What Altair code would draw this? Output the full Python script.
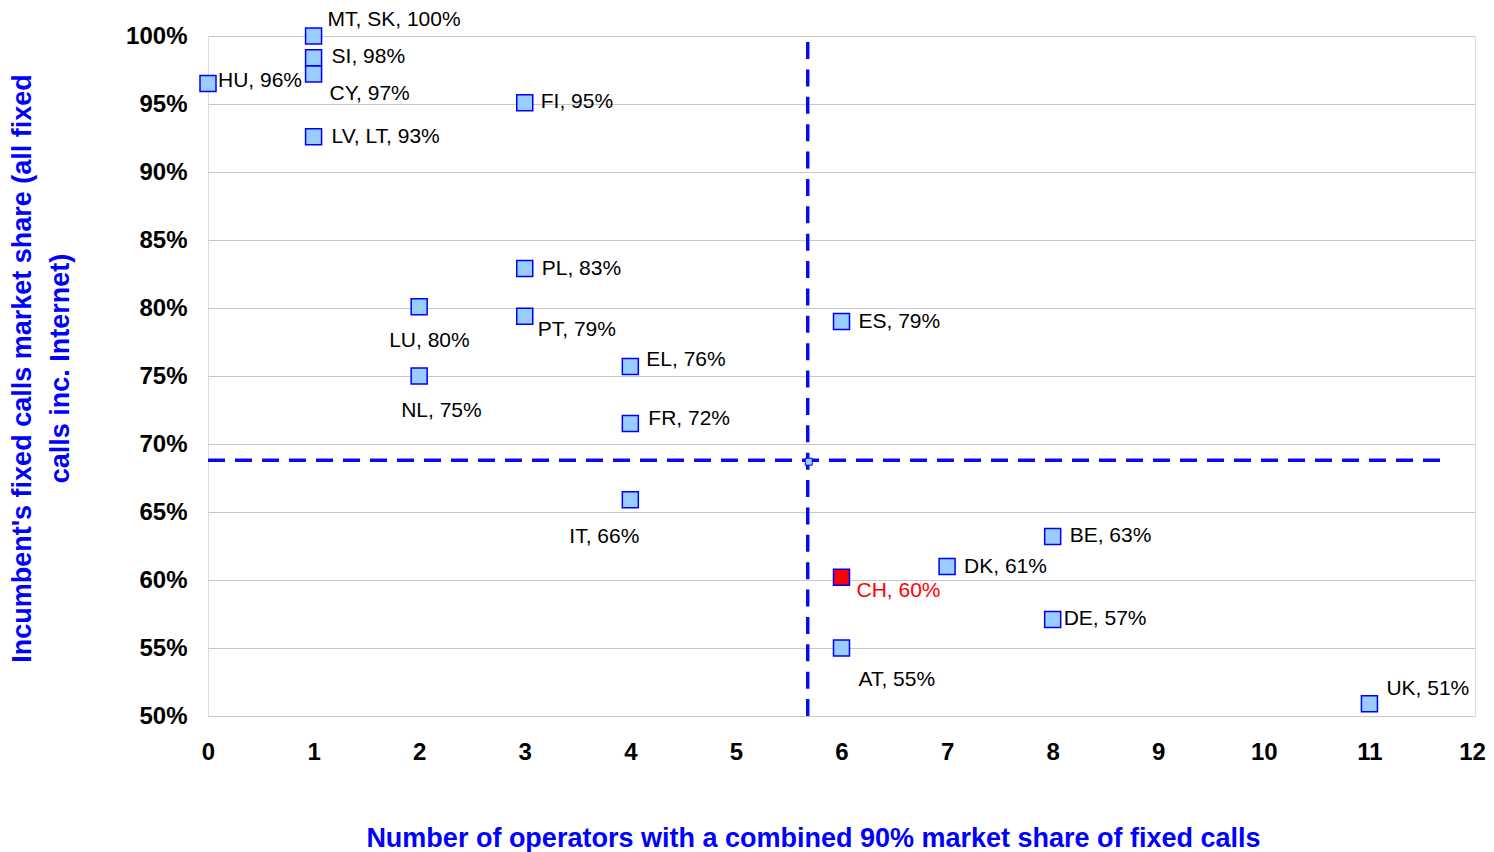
import altair as alt
import pandas as pd

# ---- data ----
codes = ["MT, SK", "SI", "CY", "HU", "LV, LT", "FI", "PL", "LU", "PT", "ES",
         "EL", "NL", "FR", "IT", "BE", "DK", "CH", "DE", "AT", "UK"]
operators = [1, 1, 1, 0, 1, 3, 3, 2, 3, 6, 4, 2, 4, 4, 8, 7, 6, 8, 6, 11]
share = [100.0, 98.4, 97.2, 96.5, 92.6, 95.1, 82.9, 80.1, 79.4, 79.0,
         75.7, 75.0, 71.5, 65.9, 63.2, 61.0, 60.2, 57.1, 55.0, 50.9]
share_label = [100, 98, 97, 96, 93, 95, 83, 80, 79, 79,
               76, 75, 72, 66, 63, 61, 60, 57, 55, 51]

mean_operators = [5.69]
mean_share = [68.7]
hline_share = [68.8]
hline_extent = [0, 11.67]
vline_operators = [5.68]
vline_extent = [99.55, 50]

# label placement (pixel offsets from the marker)
label_offsets = {
    "MT, SK": (14, -16), "SI": (18, -1), "CY": (16, 20), "HU": (10, -3),
    "LV, LT": (18, 0), "FI": (16, -1), "PL": (17, 0), "LU": (-30, 34),
    "PT": (13, 14), "ES": (17, 0), "EL": (16, -6), "NL": (-18, 35),
    "FR": (18, -5), "IT": (-61, 37), "BE": (17, 0), "DK": (17, 1),
    "CH": (15, 14), "DE": (11, 0), "AT": (17, 32), "UK": (17, -15),
}

df = pd.DataFrame({"code": codes, "operators": operators, "share": share,
                   "pct": share_label})
df["label"] = df["code"] + ", " + df["pct"].astype(str) + "%"

FONT = "Liberation Sans"
BLUE = "#0000FF"

x_scale = alt.Scale(domain=[0, 12], nice=False, zero=False)
y_scale = alt.Scale(domain=[50, 100], nice=False, zero=False)

x_axis = alt.Axis(
    values=list(range(13)), grid=False, ticks=False, domain=False,
    labelFont=FONT, labelFontSize=24, labelFontWeight="bold", labelColor="black",
    labelPadding=24, labelFlush=False, labelOverlap=False,
    labelOffset={"condition": {"test": "datum.value == 12", "value": -3}, "value": 0},
    title="Number of operators with a combined 90% market share of fixed calls",
    titleFont=FONT, titleFontSize=27, titleFontWeight="bold", titleColor=BLUE,
    titleX=605, titleY=122, titleAlign="center", titleBaseline="middle",
)
y_axis = alt.Axis(
    values=list(range(50, 101, 5)), labelExpr="datum.value + '%'",
    grid=True, gridColor="#C8C8C8", gridWidth=1, ticks=False, domain=False,
    labelFont=FONT, labelFontSize=24, labelFontWeight="bold", labelColor="black",
    labelPadding=21, labelFlush=False, labelOverlap=False,
    title=["Incumbent's fixed calls market share (all fixed", "calls inc. Internet)"],
    titleFont=FONT, titleFontSize=27, titleFontWeight="bold", titleColor=BLUE,
    titleAngle=270, titleX=-186, titleY=332, titleAlign="center",
    titleBaseline="middle", titleLineHeight=38,
)

X = alt.X("operators:Q", scale=x_scale, axis=x_axis)
Y = alt.Y("share:Q", scale=y_scale, axis=y_axis)

hline_df = pd.DataFrame({"operators": [hline_extent[0]], "op_end": [hline_extent[1]],
                         "share": hline_share})
vline_df = pd.DataFrame({"operators": vline_operators, "share": [vline_extent[0]],
                         "share_end": [vline_extent[1]]})
mean_df = pd.DataFrame({"operators": mean_operators, "share": mean_share})

hline = alt.Chart(hline_df).mark_rule(
    color="#0A0AF0", strokeWidth=3.5, strokeDash=[17, 10]
).encode(x=X, x2="op_end:Q", y=Y)
vline = alt.Chart(vline_df).mark_rule(
    color="#0A0AF0", strokeWidth=3.5, strokeDash=[17, 10.375]
).encode(x=X, y=Y, y2="share_end:Q")

base = alt.Chart(df)
points = base.mark_point(
    shape="square", size=256, filled=True, fill="#99CCFF", stroke=BLUE,
    strokeWidth=1.5, opacity=1
).encode(
    x=X, y=Y,
    fill=alt.condition("datum.code == 'CH'", alt.value("#FF0000"), alt.value("#99CCFF")),
)
mean_pt = alt.Chart(mean_df).mark_point(
    shape="square", size=49, filled=True, fill="#99CCFF", stroke=BLUE,
    strokeWidth=1, opacity=1
).encode(x=X, y=Y)

layers = [hline, vline, points, mean_pt]
for code, (dx, dy) in label_offsets.items():
    layers.append(
        base.transform_filter(alt.datum.code == code).mark_text(
            align="left", baseline="middle", dx=dx, dy=dy, font=FONT, fontSize=21,
            color="#FF0000" if code == "CH" else "black",
        ).encode(x=X, y=Y, text="label:N")
    )

chart = alt.layer(*layers).properties(
    width=1267, height=680,
    autosize=alt.AutoSizeParams(type="none"),
    padding={"left": 200, "top": 28, "right": 11, "bottom": 136},
).configure_view(stroke="#BEBEBE", strokeWidth=1).configure(background="white")

chart.save("out.html", embed_options={"renderer": "svg", "actions": False})
